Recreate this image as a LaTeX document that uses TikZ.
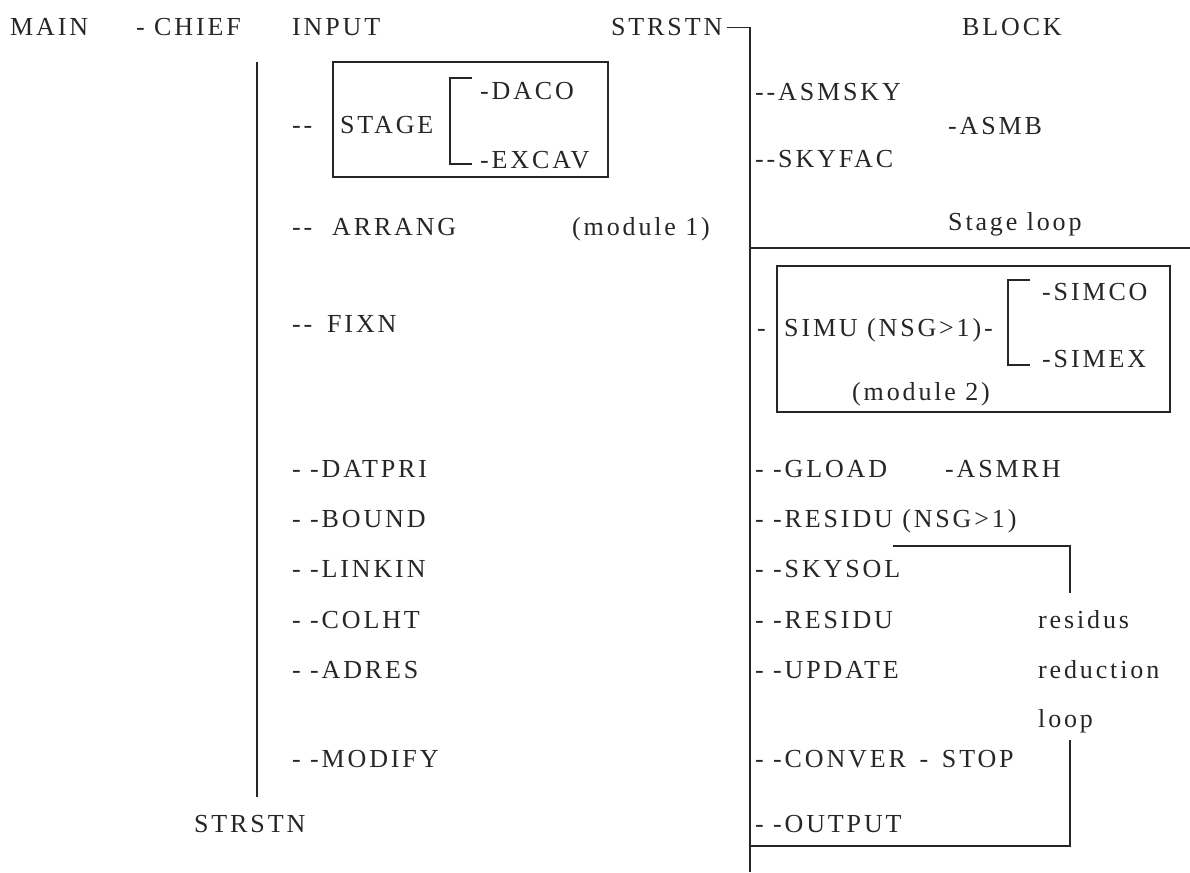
\documentclass[tikz,border=0pt]{standalone}
\usepackage{fontspec}
\setmainfont{Liberation Serif}[LetterSpace=11]

\tikzset{
  lbl/.style={anchor=base west,inner sep=0pt,text=black!85,font=\fontsize{26}{30}\selectfont},
  rule/.style={line width=1.7pt,black!85},
}

\begin{document}
\begin{tikzpicture}[x=1pt,y=-1pt]
    \useasboundingbox (0,0) rectangle (1190,872);
    \node[lbl] (main) at (10,36) {MAIN};
    \node[lbl] (chief) at (136,36) {- CHIEF};
    \node[lbl] (input) at (292,36) {INPUT};
    \node[lbl] (strstn) at (611,36) {STRSTN};
    \node[lbl] (block) at (962,36) {BLOCK};
    \coordinate (bus) at (750,872);
    \draw[rule] ([xshift=4pt]strstn.east) -| (bus);
    \coordinate (intop) at (257,62);
    \coordinate (inbot) at (257,797);
    \draw[rule] (intop) -- (inbot);
    % input side
    \draw[rule] (333,62) rectangle (608,177);
    \node[lbl] (d1) at (292,133) {{-}{-}};
    \node[lbl] (stage) at (340,133) {STAGE};
    \node[lbl] (daco) at (480,100) {-DACO};
    \node[lbl] (excav) at (480,168) {-EXCAV};
    \draw[rule] (472,78) -- (450,78) -- (450,164) -- (472,164);
    \node[lbl] (d2) at (292,235) {{-}{-}};
    \node[lbl] (arrang) at (332,235) {ARRANG};
    \node[lbl] (mod1) at (572,235) {(module 1)};
    \node[lbl] (d3) at (292,332) {{-}{-}};
    \node[lbl] (fixn) at (327,332) {FIXN};
    \node[lbl] (datpri) at (292,477) {- -DATPRI};
    \node[lbl] (bound) at (292,527) {- -BOUND};
    \node[lbl] (linkin) at (292,577) {- -LINKIN};
    \node[lbl] (colht) at (292,628) {- -COLHT};
    \node[lbl] (adres) at (292,678) {- -ADRES};
    \node[lbl] (modify) at (292,767) {- -MODIFY};
    \node[lbl] (strstnb) at (194,832) {STRSTN};
    % block side
    \node[lbl] (asmsky) at (755,101) {{-}{-}ASMSKY};
    \node[lbl] (skyfac) at (755,167) {{-}{-}SKYFAC};
    \node[lbl] (asmb) at (948,134) {-ASMB};
    \node[lbl] (sloop) at (948,230) {Stage loop};
    \coordinate (sl) at (1190,248);
    \draw[rule] (bus |- sl) -- (sl);
    \draw[rule] (777,266) rectangle (1170,412);
    \node[lbl] (d4) at (757,336) {-};
    \node[lbl] (simu) at (784,336) {SIMU (NSG>1)-};
    \node[lbl] (simco) at (1042,300) {-SIMCO};
    \node[lbl] (simex) at (1042,367) {-SIMEX};
    \draw[rule] (1030,280) -- (1008,280) -- (1008,365) -- (1030,365);
    \node[lbl] (mod2) at (852,400) {(module 2)};
    \node[lbl] (gload) at (755,477) {- -GLOAD};
    \node[lbl] (asmrh) at (945,477) {-ASMRH};
    \node[lbl] (resnsg) at (755,527) {- -RESIDU (NSG>1)};
    \node[lbl] (skysol) at (755,577) {- -SKYSOL};
    \node[lbl] (residu) at (755,628) {- -RESIDU};
    \node[lbl] (update) at (755,678) {- -UPDATE};
    \node[lbl] (conver) at (755,767) {- -CONVER \,- \,STOP};
    \node[lbl] (output) at (755,832) {- -OUTPUT};
    \node[lbl] (rs) at (1038,628) {residus};
    \node[lbl] (rd) at (1038,678) {reduction};
    \node[lbl] (lp) at (1038,727) {loop};
    \coordinate (lpa) at (893,546);
    \coordinate (lpb) at (1070,593);
    \coordinate (lpc) at (1070,740);
    \draw[rule] (lpa) -| (lpb);
    \draw[rule] (lpc) |- (bus |- 0,846);
\end{tikzpicture}
\end{document}
